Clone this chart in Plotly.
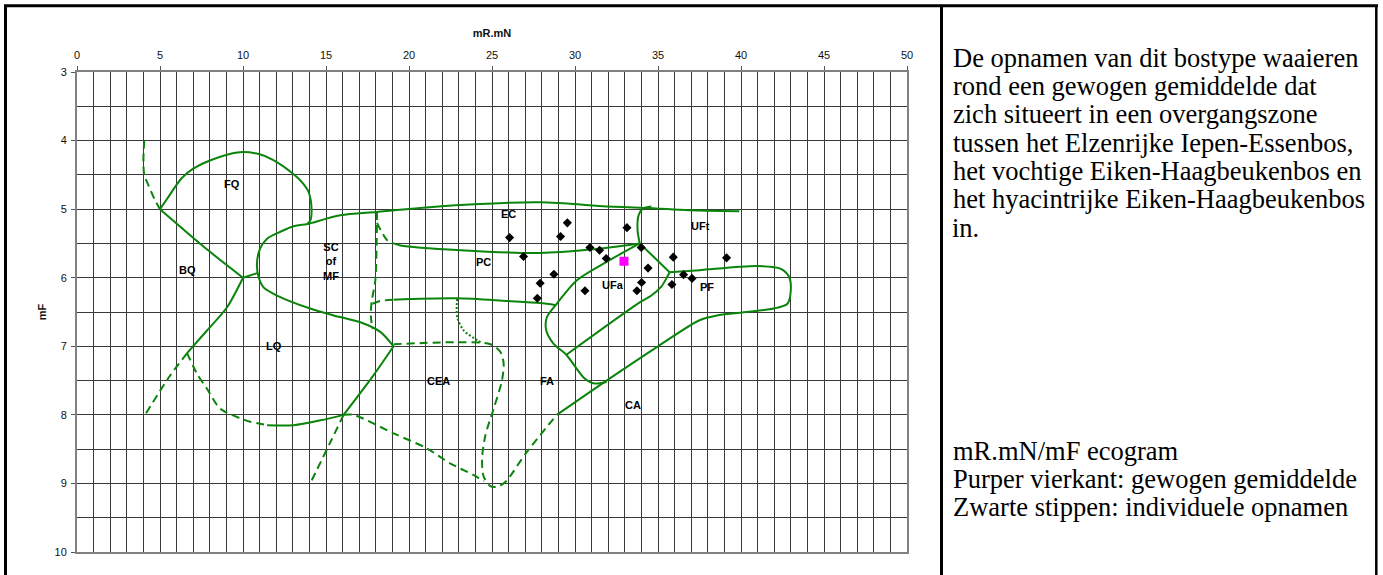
import plotly.graph_objects as go

# ---------------- individual plots (black diamonds) ----------------
opname_mRmN = [26.06, 26.90, 29.54, 29.13, 30.90, 31.48, 31.88, 33.13, 33.99, 34.40, 28.73,
               27.90, 27.73, 30.60, 34.01, 33.73, 35.92, 36.54, 37.05, 35.84, 39.13]
opname_mF = [5.415, 5.69, 5.20, 5.40, 5.56, 5.60, 5.72, 5.27, 5.56, 5.86, 5.95,
             6.08, 6.30, 6.19, 6.07, 6.19, 5.70, 5.955, 6.01, 6.10, 5.71]

# ---------------- weighted mean (purple square) ----------------
gemiddelde_mRmN = [32.95]
gemiddelde_mF = [5.76]

# ---------------- ecogram boundaries (mR.mN, mF) ----------------
FQ_BQ_DASH = [(4.05, 4.0), (4.0, 4.3), (4.05, 4.5), (4.3, 4.65), (4.7, 4.87), (5.0, 5.0)]
FQ_LOOP = [(5.0, 5.0), (5.4, 4.86), (6.3, 4.55), (7.0, 4.41), (8.0, 4.29), (9.8, 4.17),
           (11.0, 4.2), (11.8, 4.28), (13.0, 4.48), (13.6, 4.62), (13.95, 4.75),
           (14.13, 5.0), (14.05, 5.17), (13.85, 5.22)]
SC_RAND = [(13.85, 5.22), (13.05, 5.25), (12.25, 5.33), (11.45, 5.43), (11.04, 5.57),
           (10.84, 5.79), (10.94, 5.99), (11.24, 6.14), (12.05, 6.26), (14.05, 6.45),
           (15.46, 6.55), (17.07, 6.65), (18.27, 6.79), (19.07, 7.0)]
BOVENRAND = [(13.85, 5.22), (14.15, 5.2), (15.86, 5.09), (18.07, 5.04), (23.1, 4.94),
             (27.9, 4.9), (31.9, 4.96), (33.9, 4.98), (37.5, 5.02), (39.9, 5.03)]
BQ_GRENS = [(5.0, 5.0), (7.9, 5.6), (10.0, 6.0)]
KNOOP = [(10.0, 6.0), (10.9, 5.93)]
LQ_BQ = [(10.0, 6.0), (9.04, 6.43), (7.83, 6.77), (6.63, 7.1)]
DASH_LINKS = [(6.63, 7.1), (5.6, 7.43), (4.1, 8.0)]
DASH_ONDER = [(6.63, 7.1), (7.23, 7.4), (7.83, 7.62), (8.63, 7.91), (9.84, 8.05),
              (10.44, 8.1), (11.45, 8.15)]
ONDERRAND = [(11.45, 8.15), (13.05, 8.15), (14.66, 8.08), (16.06, 8.0)]
LQ_CEA = [(16.06, 8.0), (17.87, 7.42), (19.07, 7.0)]
DASH_ZW = [(16.06, 8.0), (15.26, 8.4), (14.05, 9.0)]
DASH_ZO = [(16.06, 8.0), (16.66, 8.0), (19.07, 8.27), (21.08, 8.49), (22.5, 8.71),
           (23.9, 8.88), (24.5, 8.97)]
CEA_RAND = [(19.07, 6.97), (23.1, 6.94), (24.9, 6.97), (25.5, 7.08), (25.7, 7.25),
            (25.6, 7.5), (25.1, 7.91), (24.6, 8.3), (24.4, 8.64), (24.5, 8.9),
            (24.9, 9.04), (25.3, 9.05), (25.8, 8.98), (27.1, 8.54), (28.9, 8.0)]
CA_RAND = [(28.9, 8.0), (31.9, 7.5), (35.0, 7.0), (37.5, 6.62), (38.55, 6.55),
           (39.96, 6.51), (41.97, 6.45), (42.8, 6.38), (43.0, 6.18), (42.9, 5.99),
           (42.4, 5.87), (40.96, 5.83), (37.5, 5.89), (35.7, 5.92)]
PC_BOVEN_DASH = [(18.07, 5.2), (18.67, 5.45), (19.07, 5.5)]
PC_BOVEN = [(19.07, 5.5), (19.48, 5.53), (23.1, 5.6), (27.9, 5.64), (30.9, 5.59), (33.9, 5.5)]
SC_DASH = [(18.07, 5.04), (18.05, 5.5), (17.97, 6.04), (17.75, 6.35), (17.7, 6.55), (17.8, 6.75)]
PC_ONDER_DASH = [(17.8, 6.38), (18.27, 6.34), (19.07, 6.32)]
PC_ONDER = [(19.07, 6.32), (22.9, 6.30), (25.9, 6.34), (27.9, 6.37), (28.85, 6.40)]
STIPPEL = [(22.9, 6.31), (22.9, 6.57), (23.3, 6.77), (24.1, 6.91), (24.4, 6.95)]
UFT_RAND = [(34.6, 4.96), (34.1, 4.99), (33.83, 5.09), (33.77, 5.31), (33.9, 5.5)]
UF_KNOOP = [(33.9, 5.5), (35.7, 5.92)]
FA_RAND = [(33.9, 5.5), (31.9, 5.77), (30.1, 6.04), (28.9, 6.38), (28.3, 6.58),
           (28.27, 6.77), (28.7, 6.96), (29.5, 7.13), (30.5, 7.45), (31.1, 7.54), (31.9, 7.52)]
UFA_RAND = [(29.5, 7.12), (33.9, 6.36), (34.6, 6.26), (35.2, 6.13), (35.55, 5.99), (35.7, 5.92)]

# ---------------- region labels ----------------
REGIO_TEKST = ["FQ", "BQ", "SC<br>of<br>MF", "LQ", "CEA", "EC", "PC", "UFt", "UFa", "PF", "FA", "CA"]
REGIO_X = [9.34, 6.63, 15.3, 11.84, 21.8, 26.0, 24.5, 37.55, 32.3, 37.95, 28.3, 33.5]
REGIO_Y = [4.63, 5.89, 5.77, 7.0, 7.5, 5.07, 5.77, 5.25, 6.11, 6.14, 7.5, 7.86]

# ---------------- side text ----------------
UITLEG_BOVEN = [
    "De opnamen van dit bostype waaieren",
    "rond een gewogen gemiddelde dat",
    "zich situeert in een overgangszone",
    "tussen het Elzenrijke Iepen-Essenbos,",
    "het vochtige Eiken-Haagbeukenbos en",
    "het hyacintrijke Eiken-Haagbeukenbos",
    "in.",
]
UITLEG_ONDER = [
    "mR.mN/mF ecogram",
    "Purper vierkant: gewogen gemiddelde",
    "Zwarte stippen: individuele opnamen",
]

GROEN = "#0a840a"
W, H = 1383, 575
ML, MR, MT, MB = 77, 476, 72, 23
PW, PH = W - ML - MR, H - MT - MB


def px_x(px):
    return (px - ML) / PW


def px_y(py):
    return 1 - (py - MT) / PH


fig = go.Figure()

SOLID = [FQ_LOOP, SC_RAND, BOVENRAND, BQ_GRENS, KNOOP, LQ_BQ, ONDERRAND, LQ_CEA,
         CA_RAND, PC_BOVEN, PC_ONDER, UFT_RAND, UF_KNOOP, FA_RAND, UFA_RAND]
DASHED = [FQ_BQ_DASH, DASH_LINKS, DASH_ONDER, DASH_ZW, DASH_ZO, CEA_RAND,
          PC_BOVEN_DASH, SC_DASH, PC_ONDER_DASH]
DOTTED = [STIPPEL]

for group, dash in ((SOLID, "solid"), (DASHED, "8px,5px"), (DOTTED, "2px,2px")):
    for pts in group:
        fig.add_trace(go.Scatter(
            x=[p[0] for p in pts], y=[p[1] for p in pts], mode="lines",
            line=dict(color=GROEN, width=2, dash=dash, shape="spline", smoothing=0.8),
            hoverinfo="skip", showlegend=False))

fig.add_trace(go.Scatter(
    x=opname_mRmN, y=opname_mF, mode="markers",
    marker=dict(symbol="diamond", size=7, color="black"),
    showlegend=False))
fig.add_trace(go.Scatter(
    x=gemiddelde_mRmN, y=gemiddelde_mF, mode="markers",
    marker=dict(symbol="square", size=9, color="#ff00ff"),
    showlegend=False))

for t, x, y in zip(REGIO_TEKST, REGIO_X, REGIO_Y):
    fig.add_annotation(x=x, y=y, text="<b>%s</b>" % t, showarrow=False,
                       font=dict(family="Liberation Sans, Arial", size=11, color="black"))

SERIF = dict(family="Liberation Serif, Times New Roman", size=26.5, color="black")
for i, line in enumerate(UITLEG_BOVEN):
    base = 66.3 + 28.3 * i
    fig.add_annotation(xref="paper", yref="paper", x=px_x(950.5), y=px_y(base - 8.5),
                       xanchor="left", yanchor="middle", text=line, showarrow=False, font=SERIF)
for i, line in enumerate(UITLEG_ONDER):
    base = 459.3 + 28.3 * i
    fig.add_annotation(xref="paper", yref="paper", x=px_x(950.5), y=px_y(base - 8.5),
                       xanchor="left", yanchor="middle", text=line, showarrow=False, font=SERIF)

# outer frame and divider
rand = dict(color="black", width=3)
fig.add_shape(type="line", xref="paper", yref="paper", x0=px_x(5.5), x1=px_x(5.5),
              y0=px_y(5), y1=px_y(580), line=rand)
fig.add_shape(type="line", xref="paper", yref="paper", x0=px_x(4), x1=px_x(1378),
              y0=px_y(5.8), y1=px_y(5.8), line=rand)
fig.add_shape(type="line", xref="paper", yref="paper", x0=px_x(941.5), x1=px_x(941.5),
              y0=px_y(5), y1=px_y(580), line=rand)
fig.add_shape(type="line", xref="paper", yref="paper", x0=px_x(1376.3), x1=px_x(1376.3),
              y0=px_y(5), y1=px_y(580), line=dict(color="black", width=2.5))

AXFONT = dict(family="Liberation Sans, Arial", size=11, color="#111")
GRID = "#3a3a3a"
fig.update_layout(
    width=W, height=H, margin=dict(l=ML, r=MR, t=MT, b=MB, autoexpand=False),
    paper_bgcolor="white", plot_bgcolor="white",
    xaxis=dict(range=[0, 50], side="top", tick0=0, dtick=5, ticks="outside", ticklen=4,
               ticklabelstandoff=3,
               tickcolor="#555", tickfont=AXFONT, showgrid=True, gridcolor=GRID, gridwidth=1,
               minor=dict(dtick=1, showgrid=True, gridcolor=GRID, gridwidth=1),
               showline=True, linecolor="#808080", linewidth=2, mirror=True, zeroline=False,
               title=dict(text="<b>mR.mN</b>", font=AXFONT, standoff=9)),
    yaxis=dict(range=[10, 3], tick0=3, dtick=1, ticks="outside", ticklen=4,
               ticklabelstandoff=2,
               tickcolor="#555", tickfont=AXFONT, showgrid=True, gridcolor=GRID, gridwidth=1,
               minor=dict(dtick=0.5, showgrid=True, gridcolor=GRID, gridwidth=1),
               showline=True, linecolor="#808080", linewidth=2, mirror=True, zeroline=False,
               title=dict(text="<b>mF</b>", font=AXFONT, standoff=6)),
)

fig.write_html("out.html")
